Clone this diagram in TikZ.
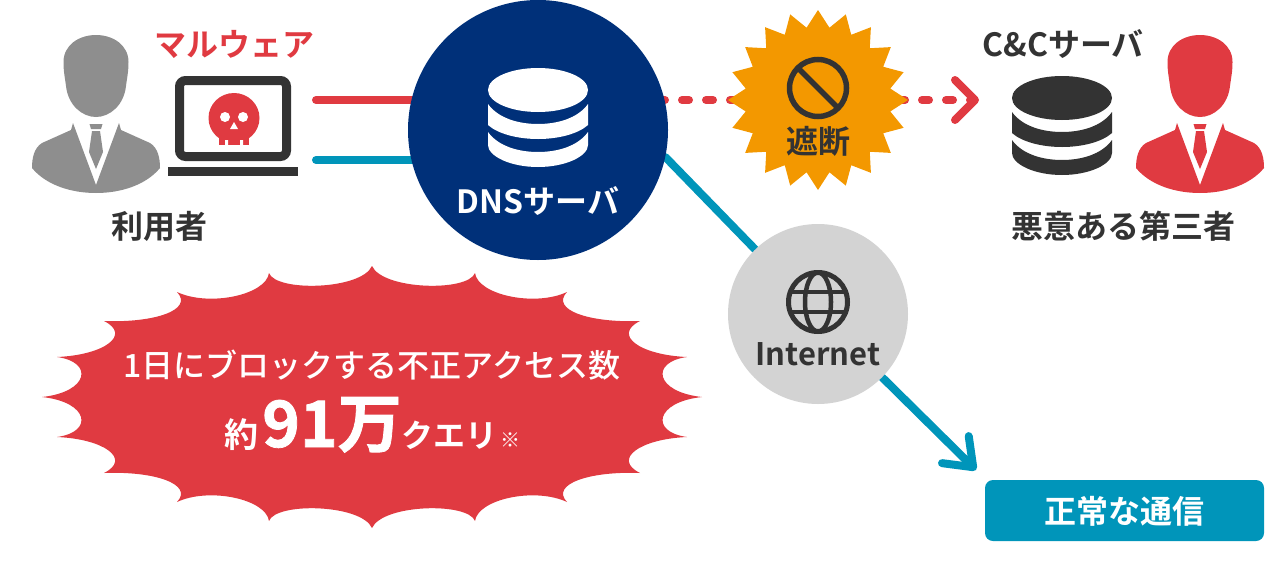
\documentclass[tikz,border=0pt]{standalone}
\usepackage{fontspec}
\setmainfont{Noto Sans CJK JP Medium}[BoldFont={Noto Sans CJK JP Bold}]
\newfontfamily\heavyfont{Noto Sans CJK JP Black}[FakeBold=1.2]
\usetikzlibrary{arrows.meta,backgrounds,shapes.geometric}
\definecolor{hired}{HTML}{E03A41}
\definecolor{hiteal}{HTML}{0095BA}
\definecolor{hinavy}{HTML}{003079}
\definecolor{hiorange}{HTML}{F39800}
\definecolor{hidark}{HTML}{333333}
\definecolor{higrey}{HTML}{8E8E8E}
\definecolor{hilight}{HTML}{D3D3D3}
\newcommand{\boldlabel}{\fontsize{32}{36}\selectfont\bfseries}
\tikzset{
	pics/person/.style={code={
		\fill[#1] (-32.5,62) .. controls (-32.5,45) and (-17,35) .. (0,35) .. controls (17,35) and (32.5,45) .. (32.5,62) .. controls (32.5,72) and (31,78) .. (30,86) .. controls (28,105) and (14,117) .. (0,117) .. controls (-14,117) and (-28,105) .. (-30,86) .. controls (-31,78) and (-32.5,72) .. (-32.5,62) -- cycle;
		\fill[#1] (-23,123) -- (-25,130) -- (-54,143) .. controls (-62,148) and (-64,158) .. (-64,168) .. controls (-50,185) and (-25,193) .. (0,193) .. controls (25,193) and (50,185) .. (64,168) .. controls (64,158) and (62,148) .. (54,143) -- (25,130) -- (23,123) -- (0,185) -- cycle;
		\fill[#1] (-6.5,124) -- (6.5,124) -- (5,129) -- (-5,129) -- cycle;
		\fill[#1] (-4,131) -- (4,131) -- (7,152) -- (0,169) -- (-7,152) -- cycle;
	}},
	pics/dbicon/.style={code={
		\fill[#1] (0,22) ellipse [x radius=50, y radius=22];
		\fill[#1] (-50,36) .. controls (-40,50) and (-20,56) .. (0,56) .. controls (20,56) and (40,50) .. (50,36) -- (50,57) .. controls (40,66) and (20,71) .. (0,71) .. controls (-20,71) and (-40,66) .. (-50,57) -- cycle;
		\fill[#1] (-50,64) .. controls (-40,78) and (-20,84) .. (0,84) .. controls (20,84) and (40,78) .. (50,64) -- (50,77) .. controls (50,88) and (28,99) .. (0,99) .. controls (-28,99) and (-50,88) .. (-50,77) -- cycle;
	}}
}
\begin{document}
\begin{tikzpicture}[x=1pt,y=-1pt,>=latex]
	\tikzstyle{darktext}=[text=hidark,font=\boldlabel,inner sep=0pt]
	\tikzstyle{whitetext}=[text=white,font=\boldlabel,inner sep=0pt]
	\tikzstyle{redline}=[hired,line width=8pt,line cap=round]
	\tikzstyle{tealline}=[hiteal,line width=8pt,line cap=round]
	\useasboundingbox (0,0) rectangle (1266,560);
	%User and Laptop
	\pic at (96,0) {person=higrey};
	\node[darktext](user) at (159,226){利用者};
	\node[text=hired,font=\boldlabel,inner sep=0pt](malware) at (234,44){マルウェア};
	\draw[hidark,line width=9pt,rounded corners=6pt] (179.5,80.5) rectangle (286.5,156.5);
	\fill[hidark] (168,167) rectangle (298,176);
	%Skull
	\fill[hired] (234,118) ellipse [x radius=25.5, y radius=25];
	\fill[hired] (219,130) rectangle (249,145);
	\fill[white] (225,117) circle (5) (243,117) circle (5);
	\fill[white] (234,122) -- (230,129) -- (238,129) -- cycle;
	\fill[white] (225,140) rectangle (228,145) (240,140) rectangle (243,145);
	%DNS Server
	\node[circle,fill=hinavy,minimum size=260pt,inner sep=0pt](dns) at (538,130){};
	\pic at (538,68) {dbicon=white};
	\node[whitetext](dnslabel) at (538,201){DNSサーバ};
	%Block Star
	\node[star,star points=20,star point ratio=1.23,fill=hiorange,minimum size=180pt,inner sep=0pt](block) at (818,100){};
	\draw[hidark,line width=5.5pt] (818,88) circle (28.5);
	\draw[hidark,line width=5.5pt] (798,68) -- (838,108);
	\node[darktext](blocklabel) at (818,141){遮断};
	%C and C Server
	\node[darktext](cclabel) at (1063,44){C\&Cサーバ};
	\pic at (1062,76) {dbicon=hidark};
	\pic at (1200,0) {person=hired};
	\node[darktext](attacker) at (1123,226){悪意ある第三者};
	%Internet
	\node[circle,fill=hilight,minimum size=180pt,inner sep=0pt](inet) at (818,314){};
	\draw[hidark,line width=5pt] (818,302) circle (29.5);
	\draw[hidark,line width=4.5pt] (818,302) ellipse [x radius=13, y radius=29.5];
	\draw[hidark,line width=4.5pt] (792,292) -- (844,292) (792,312) -- (844,312);
	\node[darktext,font=\fontsize{31}{36}\selectfont\bfseries](inetlabel) at (818,354){Internet};
	%Normal Traffic
	\node[rectangle,fill=hiteal,rounded corners=8pt,minimum width=279pt,minimum height=61pt,inner sep=0pt](normal) at (1124.5,510.5){};
	\node[whitetext](normallabel) at (1124,511){正常な通信};
	%Burst
	\fill[hired] (372,266)
		.. controls (383,290) and (468,292) .. (475,273)
		.. controls (478,295) and (535,307) .. (567,292)
		.. controls (550,310) and (590,323) .. (640,321)
		.. controls (612,335) and (640,355) .. (687,357)
		.. controls (650,362) and (655,392) .. (702,397)
		.. controls (655,402) and (650,432) .. (687,437)
		.. controls (640,439) and (612,459) .. (640,473)
		.. controls (590,471) and (550,484) .. (567,502)
		.. controls (535,487) and (478,499) .. (475,521)
		.. controls (468,502) and (383,504) .. (372,528)
		.. controls (361,504) and (276,502) .. (269,521)
		.. controls (266,499) and (209,487) .. (177,502)
		.. controls (194,484) and (154,471) .. (104,473)
		.. controls (132,459) and (104,439) .. (57,437)
		.. controls (94,432) and (89,402) .. (42,397)
		.. controls (89,392) and (94,362) .. (57,357)
		.. controls (104,355) and (132,335) .. (104,321)
		.. controls (154,323) and (194,310) .. (177,292)
		.. controls (209,307) and (266,295) .. (269,273)
		.. controls (276,292) and (361,290) .. (372,266) -- cycle;
	\node[text=white,font=\fontsize{32}{36}\selectfont,inner sep=0pt](burstline) at (372,365){1日にブロックする不正アクセス数};
	\node[whitetext,anchor=base](burstcount) at (372.5,447){{\fontsize{34}{36}\selectfont 約}\kern4pt{\fontsize{64}{70}\heavyfont 91万}\kern0pt クエリ\kern3pt{\fontsize{20}{24}\mdseries\selectfont ※}};
	%Connectors
	\coordinate (redstart) at (316,100);
	\coordinate (tealstart) at (316,160);
	\coordinate (cctip) at (979,100);
	\coordinate (normaltip) at (976,470);
	\begin{scope}[on background layer]
		\draw[redline] (redstart) -- (redstart -| dns);
		\draw[tealline] (tealstart) -- (tealstart -| dns);
		\draw[redline,dash pattern=on 7pt off 17pt,-{Straight Barb[round,length=20pt,width=40pt]}] (cctip -| dns) -- (cctip);
		\draw[tealline] (dns.-12) -- (inet);
		\draw[tealline,-{Straight Barb[round,length=25pt,width=38pt]}] (inet) -- (normaltip);
	\end{scope}
\end{tikzpicture}
\end{document}
